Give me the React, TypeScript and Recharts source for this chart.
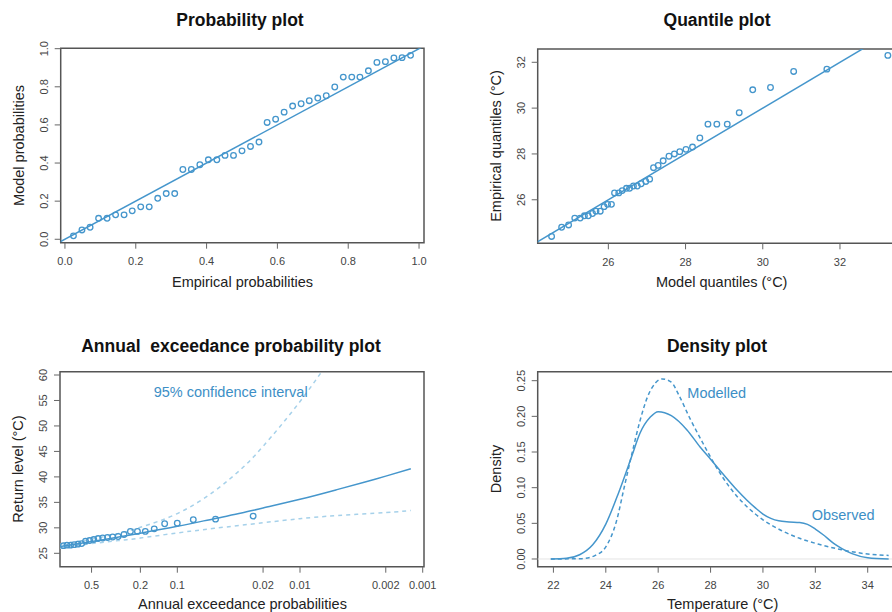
import {
  ComposedChart,
  Scatter,
  Line,
  XAxis,
  YAxis,
  ReferenceLine,
  ReferenceArea,
} from "recharts";

const FONT = '"Liberation Sans", Arial, sans-serif';
const BLUE = "#4596cc";
const BLUE_LIGHT = "#a6d1ea";
const BOX = "#555";
const AXIS_W = 30; // room reserved for the y axis
const AXIS_H = 30; // room reserved for the x axis

// Observed annual maxima (°C), sorted ascending
const tempsObserved = [
  24.4, 24.8, 24.9, 25.2, 25.2, 25.3, 25.3, 25.4, 25.5, 25.5, 25.7, 25.8, 25.8,
  26.3, 26.3, 26.4, 26.5, 26.5, 26.6, 26.6, 26.7, 26.8, 26.9, 27.4, 27.5, 27.7,
  27.9, 28.0, 28.1, 28.2, 28.3, 28.7, 29.3, 29.3, 29.3, 29.8, 30.8, 30.9, 31.6,
  31.7, 32.3,
];

// Probability plot
const probEmpirical = [
  0.024, 0.048, 0.071, 0.095, 0.119, 0.143, 0.167, 0.19, 0.214, 0.238, 0.262,
  0.286, 0.31, 0.333, 0.357, 0.381, 0.405, 0.429, 0.452, 0.476, 0.5, 0.524,
  0.548, 0.571, 0.595, 0.619, 0.643, 0.667, 0.69, 0.714, 0.738, 0.762, 0.786,
  0.81, 0.833, 0.857, 0.881, 0.905, 0.929, 0.952, 0.976,
];
const probModel = [
  0.018, 0.049, 0.063, 0.11, 0.11, 0.128, 0.128, 0.149, 0.17, 0.17, 0.215,
  0.24, 0.24, 0.366, 0.366, 0.391, 0.417, 0.417, 0.44, 0.44, 0.464, 0.487,
  0.51, 0.613, 0.63, 0.667, 0.699, 0.711, 0.727, 0.741, 0.753, 0.799, 0.851,
  0.851, 0.851, 0.884, 0.928, 0.932, 0.951, 0.953, 0.965,
];

// Quantile plot
const modelQuantiles = [
  24.53, 24.79, 24.97, 25.13, 25.27, 25.38, 25.48, 25.59, 25.68, 25.79, 25.89,
  25.98, 26.08, 26.16, 26.27, 26.36, 26.47, 26.55, 26.65, 26.75, 26.85, 26.97,
  27.07, 27.17, 27.29, 27.42, 27.57, 27.71, 27.85, 28.01, 28.18, 28.37, 28.58,
  28.81, 29.08, 29.39, 29.74, 30.2, 30.8, 31.66, 33.24,
];

// Annual exceedance probability plot (largest values first)
const aepObserved = [
  0.0241, 0.0488, 0.0741, 0.1001, 0.1268, 0.1542, 0.1823, 0.2113, 0.2412,
  0.2719, 0.3037, 0.3365, 0.3704, 0.4055, 0.4418, 0.4796, 0.5188, 0.5596,
  0.6022, 0.6466, 0.6931, 0.7419, 0.7932, 0.8473,
];
const rlProb = [0.9, 0.7, 0.5, 0.3, 0.2, 0.1, 0.05, 0.03, 0.02, 0.01, 0.005, 0.003, 0.002, 0.00125];
const rlLevel = [26.35, 26.73, 27.3, 28.2, 28.95, 30.3, 31.8, 32.9, 33.9, 35.6, 37.5, 38.95, 40.15, 41.6];
const ciUpperProb = [0.9, 0.7, 0.5, 0.3, 0.2, 0.1, 0.05, 0.03, 0.02, 0.01, 0.005];
const ciUpper = [26.8, 27.2, 27.8, 28.9, 30.1, 32.8, 37.2, 41.6, 46.0, 54.8, 65.0];
const ciLowerProb = [0.9, 0.7, 0.5, 0.3, 0.2, 0.1, 0.05, 0.02, 0.01, 0.005, 0.002, 0.00125];
const ciLower = [26.0, 26.4, 26.9, 27.5, 28.0, 29.0, 29.9, 31.0, 31.8, 32.4, 33.0, 33.4];
const aepTicks = [0.5, 0.2, 0.1, 0.02, 0.01, 0.002, 0.001];

// Density plot
const densObsX = [
  21.9, 22.5, 23.0, 23.5, 24.0, 24.5, 25.0, 25.3, 25.7, 26.0, 26.5, 27.1, 27.6,
  28.0, 28.5, 29.0, 29.4, 29.7, 30.0, 30.3, 30.6, 31.0, 31.4, 31.7, 32.0, 32.3,
  32.7, 33.0, 33.4, 34.0, 34.8,
];
const densObsY = [
  0.0, 0.001, 0.006, 0.02, 0.049, 0.094, 0.145, 0.176, 0.199, 0.2065, 0.201,
  0.181, 0.157, 0.14, 0.118, 0.097, 0.082, 0.072, 0.063, 0.057, 0.0535, 0.052,
  0.0512, 0.0485, 0.042, 0.034, 0.022, 0.015, 0.0075, 0.0018, 0.0,
];
const densModX = [
  21.9, 23.1, 23.6, 24.0, 24.4, 24.7, 25.0, 25.3, 25.6, 25.9, 26.15, 26.5, 26.8,
  27.2, 27.7, 28.2, 28.7, 29.4, 30.0, 30.7, 31.4, 32.1, 33.0, 34.0, 34.8,
];
const densModY = [
  0.0, 0.0005, 0.005, 0.017, 0.052, 0.1, 0.148, 0.193, 0.228, 0.247, 0.2525,
  0.248, 0.229, 0.198, 0.163, 0.13, 0.102, 0.073, 0.055, 0.04, 0.029, 0.021,
  0.013, 0.007, 0.005,
];

type Pt = { x: number; y: number };
const zip = (xs: number[], ys: number[]): Pt[] =>
  xs.map((x, i) => ({ x, y: ys[i] }));

const probPoints = zip(probEmpirical, probModel);
const quantPoints = zip(modelQuantiles, tempsObserved);
const aepPoints = zip(aepObserved, [...tempsObserved].reverse());
const rlCurve = zip(rlProb, rlLevel);
const ciUpperCurve = zip(ciUpperProb, ciUpper);
const ciLowerCurve = zip(ciLowerProb, ciLower);
const densObs = zip(densObsX, densObsY);
const densMod = zip(densModX, densModY);

function OpenCircle(props: any) {
  const { cx, cy } = props;
  if (cx == null || cy == null) return null;
  return (
    <circle cx={cx} cy={cy} r={2.8} fill="none" stroke={BLUE} strokeWidth={1.3} />
  );
}

const xTick = (fmt: (v: number) => string) => (props: any) => (
  <text
    x={props.x}
    y={props.y + 14.7}
    textAnchor="middle"
    fontSize={11}
    fill="#444"
    fontFamily={FONT}
  >
    {fmt(props.payload.value)}
  </text>
);

const yTick = (fmt: (v: number) => string) => (props: any) => (
  <text
    transform={`translate(${props.x - 5},${props.y}) rotate(-90)`}
    textAnchor="middle"
    fontSize={11}
    fill="#444"
    fontFamily={FONT}
  >
    {fmt(props.payload.value)}
  </text>
);

type PanelProps = {
  left: number;
  top: number;
  width: number;
  height: number;
  // edges of the plotting box, relative to the panel
  plot: { top: number; right: number; bottom: number; left: number };
  xDomain: [number, number];
  yDomain: [number, number];
  xTicks: number[];
  yTicks: number[];
  xFmt: (v: number) => string;
  yFmt: (v: number) => string;
  logX?: boolean;
  children?: React.ReactNode;
};

function Panel(p: PanelProps) {
  const margin = {
    top: p.plot.top,
    right: p.plot.right,
    bottom: p.plot.bottom - AXIS_H,
    left: p.plot.left - AXIS_W,
  };
  return (
    <div style={{ position: "absolute", left: p.left, top: p.top }}>
      <ComposedChart width={p.width} height={p.height} margin={margin}>
        <XAxis
          type="number"
          dataKey="x"
          domain={p.xDomain}
          ticks={p.xTicks}
          scale={p.logX ? "log" : "linear"}
          reversed={p.logX}
          allowDataOverflow
          axisLine={false}
          tickLine={{ stroke: "#666" }}
          tickSize={6}
          tickMargin={2}
          height={AXIS_H}
          interval={0}
          tick={xTick(p.xFmt)}
        />
        <YAxis
          type="number"
          dataKey="y"
          domain={p.yDomain}
          ticks={p.yTicks}
          allowDataOverflow
          axisLine={false}
          tickLine={{ stroke: "#666" }}
          tickSize={6}
          tickMargin={2}
          width={AXIS_W}
          interval={0}
          tick={yTick(p.yFmt)}
        />
        <ReferenceArea
          x1={p.xDomain[0]}
          x2={p.xDomain[1]}
          y1={p.yDomain[0]}
          y2={p.yDomain[1]}
          fill="none"
          stroke={BOX}
          strokeWidth={1.5}
          ifOverflow="visible"
        />
        {p.children}
      </ComposedChart>
    </div>
  );
}

const titleStyle = {
  fontFamily: FONT,
  fontSize: 17.5,
  fontWeight: 700,
  fill: "#111",
  whiteSpace: "pre" as const,
};
const axisTitle = { fontFamily: FONT, fontSize: 14.5, fill: "#222" };
const noteStyle = { fontFamily: FONT, fontSize: 14.5, fill: "#3d8fc6" };

export default function App() {
  return (
    <div
      style={{
        position: "absolute",
        left: 0,
        top: 0,
        width: 892,
        height: 612,
        overflow: "hidden",
        background: "#fff",
      }}
    >
      {/* Probability plot */}
      <Panel
        left={0}
        top={0}
        width={446}
        height={300}
        plot={{ top: 48.3, right: 22, bottom: 57.3, left: 60.7 }}
        xDomain={[-0.012, 1.014]}
        yDomain={[-0.018, 1.002]}
        xTicks={[0, 0.2, 0.4, 0.6, 0.8, 1]}
        yTicks={[0, 0.2, 0.4, 0.6, 0.8, 1]}
        xFmt={(v) => v.toFixed(1)}
        yFmt={(v) => v.toFixed(1)}
      >
        <ReferenceLine
          segment={[
            { x: -0.1, y: -0.1 },
            { x: 1.1, y: 1.1 },
          ]}
          stroke={BLUE}
          strokeWidth={1.5}
          ifOverflow="hidden"
        />
        <Scatter data={probPoints} shape={OpenCircle} isAnimationActive={false} />
      </Panel>

      {/* Quantile plot */}
      <Panel
        left={446}
        top={0}
        width={470}
        height={300}
        plot={{ top: 49, right: 10, bottom: 56.7, left: 91.7 }}
        xDomain={[24.17, 33.71]}
        yDomain={[24.1, 32.58]}
        xTicks={[26, 28, 30, 32]}
        yTicks={[26, 28, 30, 32]}
        xFmt={(v) => String(v)}
        yFmt={(v) => String(v)}
      >
        <ReferenceLine
          segment={[
            { x: 23, y: 23 },
            { x: 35, y: 35 },
          ]}
          stroke={BLUE}
          strokeWidth={1.5}
          ifOverflow="hidden"
        />
        <Scatter data={quantPoints} shape={OpenCircle} isAnimationActive={false} />
      </Panel>

      {/* Annual exceedance probability plot */}
      <Panel
        left={0}
        top={306}
        width={446}
        height={306}
        plot={{ top: 65.7, right: 22, bottom: 45.3, left: 60 }}
        xDomain={[0.000976, 0.904]}
        yDomain={[22.37, 60.65]}
        xTicks={aepTicks}
        yTicks={[25, 30, 35, 40, 45, 50, 55, 60]}
        xFmt={(v) => String(v)}
        yFmt={(v) => String(v)}
        logX
      >
        <Line
          data={ciUpperCurve}
          dataKey="y"
          type="natural"
          stroke={BLUE_LIGHT}
          strokeWidth={1.5}
          strokeDasharray="4 4"
          dot={false}
          isAnimationActive={false}
        />
        <Line
          data={ciLowerCurve}
          dataKey="y"
          type="natural"
          stroke={BLUE_LIGHT}
          strokeWidth={1.5}
          strokeDasharray="4 4"
          dot={false}
          isAnimationActive={false}
        />
        <Line
          data={rlCurve}
          dataKey="y"
          type="natural"
          stroke={BLUE}
          strokeWidth={1.5}
          dot={false}
          isAnimationActive={false}
        />
        <Scatter data={aepPoints} shape={OpenCircle} isAnimationActive={false} />
      </Panel>

      {/* Density plot */}
      <Panel
        left={446}
        top={306}
        width={471}
        height={306}
        plot={{ top: 65.7, right: 10, bottom: 45.3, left: 91.7 }}
        xDomain={[21.4, 35.5]}
        yDomain={[-0.0108, 0.2626]}
        xTicks={[22, 24, 26, 28, 30, 32, 34]}
        yTicks={[0, 0.05, 0.1, 0.15, 0.2, 0.25]}
        xFmt={(v) => String(v)}
        yFmt={(v) => v.toFixed(2)}
      >
        <ReferenceLine y={0} stroke="#e4e4e4" strokeWidth={1} />
        <Line
          data={densMod}
          dataKey="y"
          type="monotone"
          stroke={BLUE}
          strokeWidth={1.5}
          strokeDasharray="4 3"
          dot={false}
          isAnimationActive={false}
        />
        <Line
          data={densObs}
          dataKey="y"
          type="monotone"
          stroke={BLUE}
          strokeWidth={1.5}
          dot={false}
          isAnimationActive={false}
        />
      </Panel>

      {/* Titles, axis titles and notes */}
      <svg
        width={892}
        height={612}
        style={{ position: "absolute", left: 0, top: 0, pointerEvents: "none" }}
      >
        <text x={240} y={26} textAnchor="middle" style={titleStyle}>
          Probability plot
        </text>
        <text x={717} y={26} textAnchor="middle" style={titleStyle}>
          Quantile plot
        </text>
        <text x={231} y={351.5} textAnchor="middle" style={titleStyle}>
          {"Annual  exceedance probability plot"}
        </text>
        <text x={717} y={351.5} textAnchor="middle" style={titleStyle}>
          Density plot
        </text>

        <text x={242.5} y={287} textAnchor="middle" style={axisTitle}>
          Empirical probabilities
        </text>
        <text transform="translate(24,145.5) rotate(-90)" textAnchor="middle" style={axisTitle}>
          Model probabilities
        </text>
        <text x={721.7} y={287} textAnchor="middle" style={axisTitle}>
          Model quantiles (°C)
        </text>
        <text transform="translate(500.5,146) rotate(-90)" textAnchor="middle" style={axisTitle}>
          Empirical quantiles (°C)
        </text>
        <text x={242.5} y={608.5} textAnchor="middle" style={axisTitle}>
          Annual exceedance probabilities
        </text>
        <text transform="translate(23,469) rotate(-90)" textAnchor="middle" style={axisTitle}>
          Return level (°C)
        </text>
        <text x={722.7} y={608.5} textAnchor="middle" style={axisTitle}>
          Temperature (°C)
        </text>
        <text transform="translate(500.5,469) rotate(-90)" textAnchor="middle" style={axisTitle}>
          Density
        </text>

        <text x={153.7} y={397} style={noteStyle}>
          95% confidence interval
        </text>
        <text x={687.3} y={397.5} style={noteStyle}>
          Modelled
        </text>
        <text x={811.7} y={519.5} style={noteStyle}>
          Observed
        </text>
      </svg>
    </div>
  );
}
